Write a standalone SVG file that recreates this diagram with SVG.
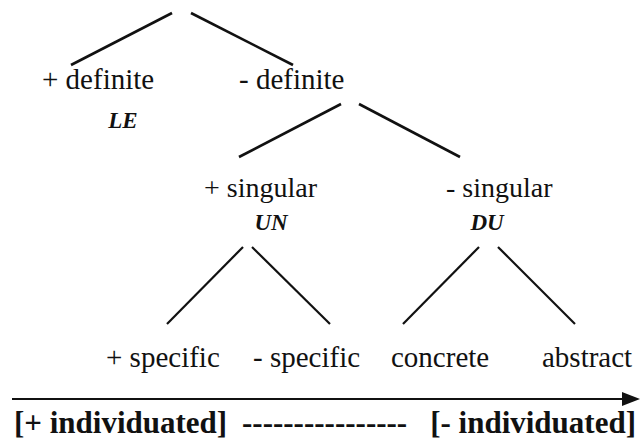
<svg xmlns="http://www.w3.org/2000/svg" width="640" height="443" viewBox="0 0 640 443">
<style>
text{font-family:'Liberation Serif','Times New Roman',Times,serif;fill:#111}
.t{font-size:29px}
.s{font-size:28px}
.m{font-size:23px;font-weight:bold;font-style:italic;text-anchor:middle}
.b{font-size:31px;font-weight:bold}
.e{stroke:#111;stroke-width:2.6;fill:none}
.e2{stroke:#111;stroke-width:2.2;fill:none}
</style>
<rect width="640" height="443" fill="#fff"/>
<g id="connectors">
<line class="e" x1="172" y1="13" x2="71" y2="65"/>
<line class="e" x1="191" y1="13" x2="293" y2="65"/>
<line class="e" x1="341" y1="104" x2="239" y2="157"/>
<line class="e" x1="359" y1="104" x2="460" y2="157"/>
<line class="e2" x1="243" y1="247" x2="167" y2="324"/>
<line class="e2" x1="252" y1="247" x2="330" y2="324"/>
<line class="e2" x1="479" y1="247" x2="403" y2="324"/>
<line class="e2" x1="498" y1="247" x2="575" y2="324"/>
</g>
<g id="plus-definite"><text class="t" x="42" y="89">+ definite</text><text class="m" x="123" y="128">LE</text></g>
<g id="minus-definite"><text class="t" x="239" y="89">- definite</text></g>
<g id="plus-singular"><text class="s" x="204" y="197">+ singular</text><text class="m" x="271" y="230">UN</text></g>
<g id="minus-singular"><text class="s" x="446" y="197">- singular</text><text class="m" x="487" y="230">DU</text></g>
<g id="plus-specific"><text class="t" x="106" y="367">+ specific</text></g>
<g id="minus-specific"><text class="t" x="253" y="367">- specific</text></g>
<g id="concrete"><text class="t" x="391" y="367">concrete</text></g>
<g id="abstract"><text class="t" x="542" y="367">abstract</text></g>
<g id="scale">
<line x1="12" y1="399" x2="625" y2="399" stroke="#111" stroke-width="2"/>
<polygon points="622,392 640,399 622,406" fill="#111"/>
<text class="b" x="14" y="433">[+ individuated]</text>
<text class="b" x="242" y="433">----------------</text>
<text class="b" x="636" y="433" text-anchor="end">[- individuated]</text>
</g>
</svg>
